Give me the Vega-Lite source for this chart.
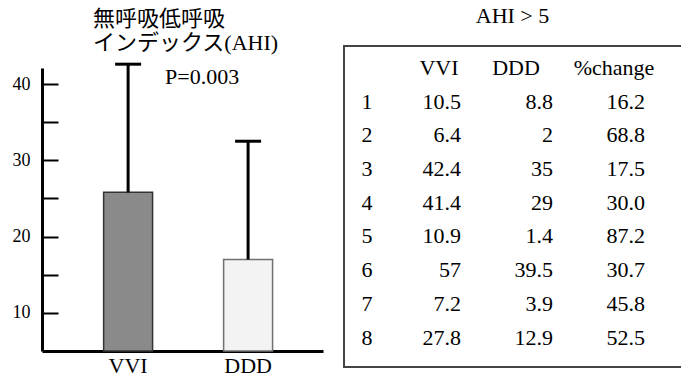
{
  "$schema": "https://vega.github.io/schema/vega-lite/v6.json",
  "background": "white",
  "padding": {"left": 5, "top": 4, "right": 0, "bottom": 0},
  "spacing": 20,
  "config": {
    "font": "Liberation Serif",
    "view": {"stroke": null},
    "axis": {"grid": false, "labelColor": "black", "domainColor": "black", "tickColor": "black", "labelFont": "Liberation Serif"},
    "text": {"font": "Liberation Serif", "fontSize": 22, "color": "black"}
  },
  "datasets": {
    "bars": [
      {"mode": "VVI", "mean": 25.8, "upper": 42.6},
      {"mode": "DDD", "mean": 17.0, "upper": 32.5}
    ],
    "note": [{"label": "P=0.003"}],
    "table": [
      {"id": "1", "VVI": 10.5, "DDD": 8.8, "change": 16.2},
      {"id": "2", "VVI": 6.4, "DDD": 2, "change": 68.8},
      {"id": "3", "VVI": 42.4, "DDD": 35, "change": 17.5},
      {"id": "4", "VVI": 41.4, "DDD": 29, "change": 30.0},
      {"id": "5", "VVI": 10.9, "DDD": 1.4, "change": 87.2},
      {"id": "6", "VVI": 57, "DDD": 39.5, "change": 30.7},
      {"id": "7", "VVI": 7.2, "DDD": 3.9, "change": 45.8},
      {"id": "8", "VVI": 27.8, "DDD": 12.9, "change": 52.5}
    ],
    "headers": [{"col": "VVI"}, {"col": "DDD"}, {"col": "%change"}]
  },
  "hconcat": [
    {
      "width": 281,
      "height": 305,
      "title": {
        "text": ["無呼吸低呼吸", "インデックス(AHI)"],
        "anchor": "start",
        "frame": "group",
        "dx": 51,
        "dy": 9,
        "offset": 0,
        "font": "'Liberation Serif', 'Noto Sans CJK JP', sans-serif",
        "fontSize": 22,
        "fontWeight": "normal",
        "lineHeight": 24,
        "color": "black"
      },
      "encoding": {
        "x": {
          "field": "mode",
          "type": "nominal",
          "sort": ["VVI", "DDD"],
          "scale": {"paddingInner": 0.592, "paddingOuter": 0.467, "align": 0.55},
          "axis": {"title": null, "ticks": false, "labelAngle": 0, "labelFontSize": 22, "labelPadding": 4, "domainWidth": 3}
        }
      },
      "layer": [
        {
          "data": {"name": "bars"},
          "mark": {"type": "bar", "strokeWidth": 1.5},
          "encoding": {
            "y": {
              "field": "mean",
              "type": "quantitative",
              "scale": {"domain": [5, 42.1], "range": [305, 22], "nice": false, "zero": false},
              "axis": {
                "title": null,
                "values": [10, 15, 20, 25, 30, 35, 40],
                "labelExpr": "datum.value % 10 === 0 ? datum.label : ''",
                "tickSize": -16,
                "tickWidth": 2,
                "domainWidth": 3,
                "labelFontSize": 18,
                "labelPadding": 28,
                "minExtent": 37,
                "maxExtent": 37
              }
            },
            "y2": {"datum": 5},
            "fill": {"field": "mode", "type": "nominal", "scale": {"domain": ["VVI", "DDD"], "range": ["#8a8a8a", "#f3f3f3"]}, "legend": null},
            "stroke": {"field": "mode", "type": "nominal", "scale": {"domain": ["VVI", "DDD"], "range": ["#333333", "#707070"]}, "legend": null}
          }
        },
        {
          "data": {"name": "bars"},
          "mark": {"type": "rule", "strokeWidth": 3, "color": "black"},
          "encoding": {
            "y": {"field": "mean", "type": "quantitative"},
            "y2": {"field": "upper"}
          }
        },
        {
          "data": {"name": "bars"},
          "mark": {"type": "tick", "size": 26, "thickness": 3, "color": "black", "opacity": 1},
          "encoding": {
            "y": {"field": "upper", "type": "quantitative"}
          }
        },
        {
          "data": {"name": "note"},
          "mark": {"type": "text", "align": "left", "baseline": "alphabetic", "dx": 37},
          "encoding": {
            "x": {"datum": "VVI", "type": "nominal"},
            "y": {"datum": 40, "type": "quantitative"},
            "text": {"field": "label"}
          }
        }
      ]
    },
    {
      "width": 345,
      "height": 321,
      "view": {"stroke": "#444444", "strokeWidth": 2},
      "title": {"text": "AHI > 5", "fontSize": 22, "fontWeight": "normal", "dx": -4, "offset": 18, "color": "black"},
      "layer": [
        {
          "data": {"name": "table"},
          "mark": {"type": "text", "align": "center", "dx": -2},
          "encoding": {
            "x": {"datum": "n", "type": "nominal", "scale": {"type": "point", "domain": ["n", "VVI", "DDD", "%change"], "padding": 0.375, "align": 0.362}, "axis": null},
            "y": {"field": "id", "type": "nominal", "scale": {"type": "point", "domain": ["h", "1", "2", "3", "4", "5", "6", "7", "8"], "padding": 0.763, "align": 0.428}, "axis": null},
            "text": {"field": "id"}
          }
        },
        {
          "data": {"name": "table"},
          "transform": [{"fold": ["VVI", "DDD"], "as": ["key", "val"]}],
          "mark": {"type": "text", "align": "right"},
          "encoding": {
            "x": {"field": "key", "type": "nominal", "axis": null},
            "y": {"field": "id", "type": "nominal", "axis": null},
            "text": {"field": "val", "type": "nominal"}
          }
        },
        {
          "data": {"name": "table"},
          "mark": {"type": "text", "align": "right"},
          "encoding": {
            "x": {"datum": "%change", "type": "nominal", "axis": null},
            "y": {"field": "id", "type": "nominal", "axis": null},
            "text": {"field": "change", "type": "quantitative", "format": ".1f"}
          }
        },
        {
          "data": {"name": "headers"},
          "transform": [{"filter": "datum.col === 'VVI'"}],
          "mark": {"type": "text", "align": "center", "dx": -22},
          "encoding": {
            "x": {"field": "col", "type": "nominal", "axis": null},
            "y": {"datum": "h", "type": "nominal", "axis": null},
            "text": {"field": "col"}
          }
        },
        {
          "data": {"name": "headers"},
          "transform": [{"filter": "datum.col === 'DDD'"}],
          "mark": {"type": "text", "align": "center", "dx": -37},
          "encoding": {
            "x": {"field": "col", "type": "nominal", "axis": null},
            "y": {"datum": "h", "type": "nominal", "axis": null},
            "text": {"field": "col"}
          }
        },
        {
          "data": {"name": "headers"},
          "transform": [{"filter": "datum.col === '%change'"}],
          "mark": {"type": "text", "align": "center", "dx": -31},
          "encoding": {
            "x": {"field": "col", "type": "nominal", "axis": null},
            "y": {"datum": "h", "type": "nominal", "axis": null},
            "text": {"field": "col"}
          }
        }
      ]
    }
  ]
}
